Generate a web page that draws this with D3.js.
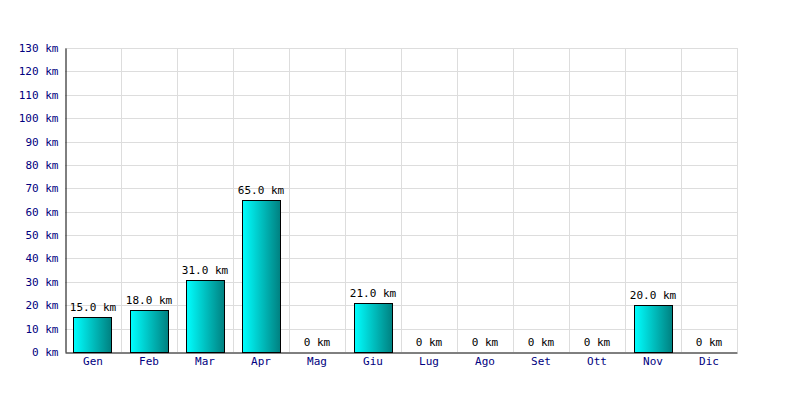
<!DOCTYPE html>
<html><head><meta charset="utf-8">
<script src="https://cdn.jsdelivr.net/npm/d3@7"></script>
<style>body{margin:0;background:#fff}svg{display:block}</style>
</head><body><svg id="c" width="800" height="400"></svg>
<script>
const months = ["Gen","Feb","Mar","Apr","Mag","Giu","Lug","Ago","Set","Ott","Nov","Dic"];
const km = [15,18,31,65,0,21,0,0,0,0,20,0];
const yTicks = [0,10,20,30,40,50,60,70,80,90,100,110,120,130];

const svg = d3.select("#c");
const L=65,R=737,T=48,B=352;
const x = d3.scaleBand().domain(months).range([L,R]).paddingInner(0.32).paddingOuter(0.15);
const xg = d3.scaleBand().domain(months).range([L,R]);
const y = d3.scaleLinear().domain([0,130]).range([B,T]);
const font = "'DejaVu Sans Mono', monospace";

const defs = svg.append("defs");
const g = defs.append("linearGradient").attr("id","bg").attr("x1","0").attr("x2","1").attr("y1","0").attr("y2","0");
g.append("stop").attr("offset","0").attr("stop-color","#00ffff");
g.append("stop").attr("offset","1").attr("stop-color","#008080");

// grid
svg.append("g").selectAll("line.h").data(yTicks.slice(1)).join("line")
  .attr("x1",L).attr("x2",R).attr("y1",d=>Math.round(y(d))+0.5).attr("y2",d=>Math.round(y(d))+0.5)
  .attr("stroke","#dddddd");
svg.append("g").selectAll("line.v").data(months.slice(1).concat(["end"])).join("line")
  .attr("x1",(d,i)=>Math.round(L+xg.bandwidth()*(i+1))+0.5).attr("x2",(d,i)=>Math.round(L+xg.bandwidth()*(i+1))+0.5)
  .attr("y1",T).attr("y2",B).attr("stroke","#dddddd");

// bars
svg.append("g").selectAll("rect").data(km).join("rect")
  .attr("x",(d,i)=>Math.round(x(months[i]))+0.5)
  .attr("width",Math.round(x.bandwidth()))
  .attr("y",d=>Math.round(y(d))+0.5)
  .attr("height",d=>Math.round(B-y(d)))
  .attr("fill","url(#bg)").attr("stroke","#000").attr("stroke-width",1)
  .style("display",d=>d>0?null:"none");

// value labels
svg.append("g").selectAll("text").data(km).join("text")
  .attr("x",(d,i)=>xg(months[i])+xg.bandwidth()/2)
  .attr("y",d=>y(d)-6)
  .attr("text-anchor","middle").attr("font-family",font).attr("font-size","11px").attr("fill","#000")
  .text(d=>d>0?d.toFixed(1)+" km":"0 km");

// axes
const yAxis = d3.axisLeft(y).tickValues(yTicks).tickSize(0).tickPadding(7).tickFormat(d=>d+" km");
const ya = svg.append("g").attr("transform",`translate(${L+0.5},0)`).call(yAxis);
ya.select(".domain").attr("stroke","#000");
ya.selectAll("text").attr("font-family",font).attr("font-size","11px").attr("fill","#000080");
const xAxis = d3.axisBottom(xg).tickSize(0).tickPadding(5);
const xa = svg.append("g").attr("transform",`translate(0,${B+0.5})`).call(xAxis);
xa.select(".domain").attr("stroke","#000");
xa.selectAll("text").attr("font-family",font).attr("font-size","11px").attr("fill","#000080");
</script></body></html>
